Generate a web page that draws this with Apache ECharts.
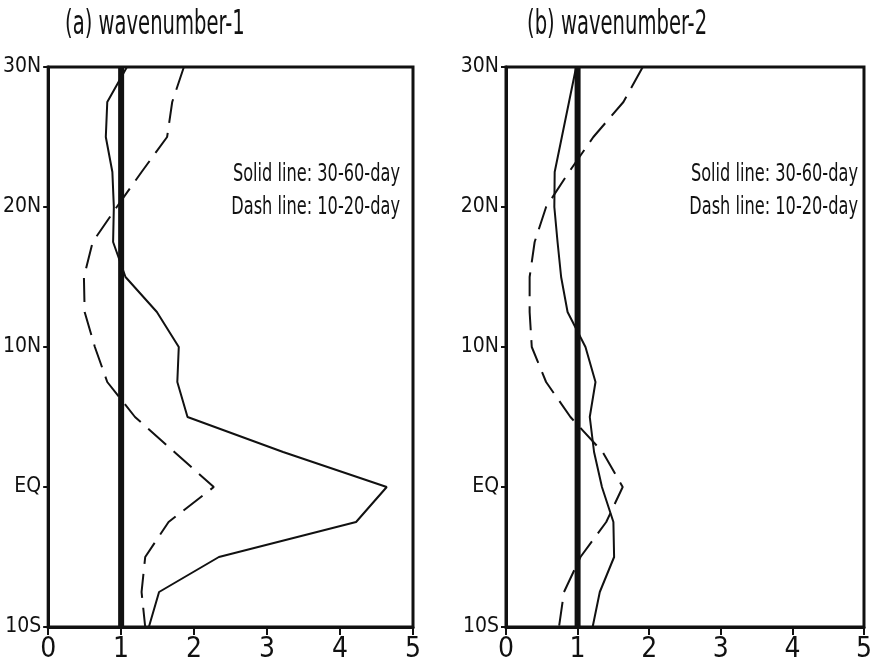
<!DOCTYPE html>
<html>
<head>
<meta charset="utf-8">
<script src="https://cdn.jsdelivr.net/npm/echarts@6/dist/echarts.min.js"></script>
<style>
  html, body { margin: 0; padding: 0; background: #fff; }
  #chart { width: 875px; height: 667px; }
</style>
</head>
<body>
<div id="chart"></div>
<script>
// ---- data ----
var lats = [30, 27.5, 25, 22.5, 20, 17.5, 15, 12.5, 10, 7.5, 5, 2.5, 0, -2.5, -5, -7.5, -10];
var wave1Solid = [1.08, 0.81, 0.79, 0.88, 0.90, 0.89, 1.06, 1.49, 1.79, 1.77, 1.91, 3.22, 4.64, 4.22, 2.34, 1.52, 1.38];
var wave1Dash  = [1.86, 1.70, 1.63, 1.28, 0.94, 0.61, 0.49, 0.50, 0.64, 0.81, 1.19, 1.73, 2.27, 1.65, 1.33, 1.28, 1.33];
var wave2Solid = [0.98, 0.88, 0.78, 0.68, 0.675, 0.72, 0.77, 0.86, 1.11, 1.25, 1.17, 1.23, 1.34, 1.50, 1.51, 1.31, 1.21];
var wave2Dash  = [1.91, 1.64, 1.22, 0.88, 0.56, 0.40, 0.33, 0.33, 0.36, 0.56, 0.90, 1.35, 1.63, 1.40, 1.04, 0.81, 0.74];
var refX = 1;
var yTickValues = [-10, 0, 10, 20, 30];
var yTickLabels = ['10S', 'EQ', '10N', '20N', '30N'];
var xTickLabels = ['0', '1', '2', '3', '4', '5'];
var panelTitles = ['(a) wavenumber-1', '(b) wavenumber-2'];
var legendLines = ['Solid line: 30-60-day', 'Dash line: 10-20-day'];

var FONT = "'Liberation Sans Narrow', 'DejaVu Sans Condensed', 'Liberation Sans', sans-serif";
var INK = '#111';

function pairs(vals) { return lats.map(function (lat, i) { return [vals[i], lat]; }); }

var grids = [
  { left: 47, top: 67, width: 366, height: 560 },
  { left: 506, top: 67, width: 365, height: 560 }
];

var xAxes = [], yAxes = [], series = [], graphics = [];
grids.forEach(function (g, k) {
  g.show = true; g.borderColor = INK; g.borderWidth = 3; g.backgroundColor = 'transparent';
  xAxes.push({
    gridIndex: k, type: 'value', min: 0, max: 5, interval: 1,
    axisLine: { show: true, onZero: false, lineStyle: { color: INK, width: 3 } },
    axisTick: { show: true, length: 8, lineStyle: { color: INK, width: 2 } },
    splitLine: { show: false },
    axisLabel: { margin: 9, color: INK, fontFamily: FONT, fontSize: 28,
      formatter: function (v) { return xTickLabels[Math.round(v)]; } }
  });
  yAxes.push({
    gridIndex: k, type: 'value', min: -10, max: 30, interval: 10,
    axisLine: { show: true, onZero: false, lineStyle: { color: INK, width: 3 } },
    axisTick: { show: true, length: 5, lineStyle: { color: INK, width: 2 } },
    splitLine: { show: false },
    axisLabel: { margin: 7, color: INK, fontFamily: FONT, fontSize: 21,
      formatter: function (v) { return yTickLabels[yTickValues.indexOf(v)]; } }
  });
});

var panelData = [[wave1Solid, wave1Dash], [wave2Solid, wave2Dash]];
panelData.forEach(function (pd, k) {
  series.push({
    name: 'ref', type: 'line', xAxisIndex: k, yAxisIndex: k, symbol: 'none', silent: true,
    data: [[refX, -10], [refX, 30]], lineStyle: { color: INK, width: 6 }, z: 3
  });
  series.push({
    name: '30-60-day', type: 'line', xAxisIndex: k, yAxisIndex: k, symbol: 'none',
    data: pairs(pd[0]), lineStyle: { color: INK, width: 2 }, z: 4
  });
  series.push({
    name: '10-20-day', type: 'line', xAxisIndex: k, yAxisIndex: k, symbol: 'none',
    data: pairs(pd[1]), lineStyle: { color: INK, width: 2, type: [24, 10] }, z: 4
  });
  // titles
  graphics.push({
    type: 'text', x: [65, 527][k], y: 25, scaleX: 0.64, scaleY: 1,
    style: { text: panelTitles[k], fill: INK, font: "34px " + FONT, textAlign: 'left', textVerticalAlign: 'middle' }
  });
  // legend texts
  legendLines.forEach(function (t, j) {
    graphics.push({
      type: 'text', x: grids[k].left + grids[k].width - 13, y: 174 + j * 33, scaleX: 0.72, scaleY: 1,
      style: { text: t, fill: INK, font: "25px " + FONT, textAlign: 'right', textVerticalAlign: 'middle' }
    });
  });
});

var chart = echarts.init(document.getElementById('chart'), null, { renderer: 'canvas' });
chart.setOption({
  animation: false,
  backgroundColor: '#fff',
  grid: grids,
  xAxis: xAxes,
  yAxis: yAxes,
  series: series,
  graphic: graphics
});
</script>
</body>
</html>
